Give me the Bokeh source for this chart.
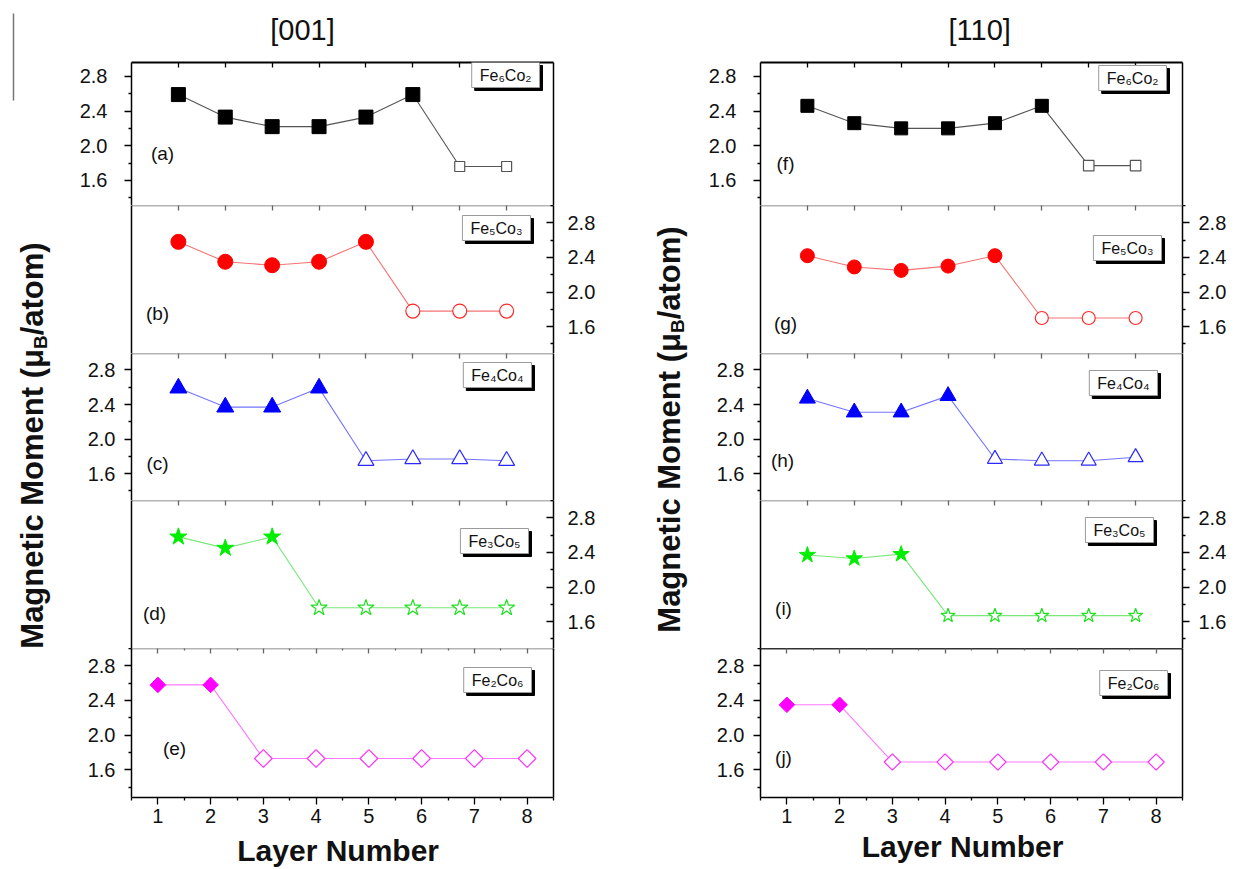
import math
from bokeh.plotting import figure
from bokeh.layouts import row, column
from bokeh.models import (Range1d, LinearAxis, FixedTicker, Label,
                          CustomJSTickFormatter, PrintfTickFormatter)
from bokeh.core.properties import value
from bokeh.embed import file_html
from bokeh.resources import INLINE

FONT = "Liberation Sans"

# ---------------- data ----------------
layers = [1, 2, 3, 4, 5, 6, 7, 8]
compositions = ["Fe₆Co₂", "Fe₅Co₃", "Fe₄Co₄", "Fe₃Co₅", "Fe₂Co₆"]
fe_layers = [6, 5, 4, 3, 2]          # number of Fe layers (filled symbols)
tags_001 = ["(a)", "(b)", "(c)", "(d)", "(e)"]
tags_110 = ["(f)", "(g)", "(h)", "(i)", "(j)"]
titles = ["[001]", "[110]"]

m001_fe6co2 = [2.59, 2.33, 2.22, 2.22, 2.33, 2.59, 1.76, 1.76]
m001_fe5co3 = [2.58, 2.35, 2.31, 2.35, 2.58, 1.78, 1.78, 1.78]
m001_fe4co4 = [2.59, 2.37, 2.37, 2.59, 1.75, 1.77, 1.77, 1.75]
m001_fe3co5 = [2.58, 2.45, 2.58, 1.76, 1.76, 1.76, 1.76, 1.76]
m001_fe2co6 = [2.58, 2.58, 1.73, 1.73, 1.73, 1.73, 1.73, 1.73]

m110_fe6co2 = [2.46, 2.26, 2.20, 2.20, 2.26, 2.46, 1.77, 1.77]
m110_fe5co3 = [2.42, 2.29, 2.25, 2.30, 2.42, 1.70, 1.70, 1.70]
m110_fe4co4 = [2.47, 2.31, 2.31, 2.50, 1.77, 1.75, 1.75, 1.79]
m110_fe3co5 = [2.37, 2.33, 2.38, 1.67, 1.67, 1.67, 1.67, 1.67]
m110_fe2co6 = [2.35, 2.35, 1.69, 1.69, 1.69, 1.69, 1.69, 1.69]

y_major = [1.6, 2.0, 2.4, 2.8]
y_minor = [1.4, 1.8, 2.2, 2.6, 3.0]
x_half = [0.5, 1.5, 2.5, 3.5, 4.5, 5.5, 6.5, 7.5, 8.5]
x_title = "Layer Number"
y_title_parts = ["Magnetic Moment (μ", "B", "/atom)"]

series_001 = [m001_fe6co2, m001_fe5co3, m001_fe4co4, m001_fe3co5, m001_fe2co6]
series_110 = [m110_fe6co2, m110_fe5co3, m110_fe4co4, m110_fe3co5, m110_fe2co6]

# ---------------- styles ----------------
markers = ["square", "circle", "triangle", "star", "square"]
marker_angles = [0, 0, 0, 0, math.pi / 4]
colors = ["#000000", "#ff0000", "#0000ff", "#00ee00", "#ff00ff"]
open_colors = ["#555555", "#ff2a2a", "#2a2aff", "#22e022", "#ff33ff"]
line_colors = ["#555555", "#f47474", "#7474ff", "#7ae87a", "#ff7aff"]
size_fill = {"L": [14, 15, 17, 18, 11], "R": [13, 14, 16, 17, 11]}
size_open = {"L": [10, 14, 16, 17, 12.5], "R": [10.5, 13, 15, 15, 11.5]}

# ---------------- layout geometry (page px) ----------------
PAGE_TOP, PAGE_BOTTOM = 0, 869
HEAD_BOTTOM = 50
FOOT_TOP = 830
COL_X = {"L": (60, 640), "R": (700, 1239)}
FRAME_X = {"L": (131, 553), "R": (760, 1182)}
FRAME_Y = [(62, 205), (205, 353), (353, 500), (500, 648), (648, 797)]
X_RANGES = [(0, 9), (0, 9), (0, 9), (0, 9), (0.5, 8.5)]
Y_RANGES = [(1.31, 2.96), (1.29, 3.0), (1.29, 2.99), (1.29, 3.0), (1.28, 3.0)]

LEGEND_TR = {"L": [(539, 62), (530, 215), (531, 362), (528, 528), (531, 667)],
             "R": [(1166, 65), (1161, 235), (1157, 370), (1153, 517), (1167, 670)]}
TAG_C = {"L": [(162, 153), (157, 313), (157, 463), (154, 613), (174, 748)],
         "R": [(785, 163), (785, 323), (782, 460), (783, 608), (783, 757)]}
TITLE_C = {"L": (295, 29), "R": (980, 29)}
XTITLE_C = {"L": (344, 850), "R": (958, 846)}
YTITLE = {"L": (0, 60, 32, 445), "R": (640, 700, 669, 429)}
TOP_LINE = {"L": ["#000000", "#b4b4b4", "#b4b4b4", "#b4b4b4", "#b4b4b4"],
            "R": ["#000000", "#b4b4b4", "#b4b4b4", "#b4b4b4", "#333333"]}

BOLD_W = {"M": 833, "a": 556, "g": 611, "n": 611, "e": 556, "t": 333, "i": 278,
          "c": 556, " ": 278, "o": 611, "m": 889, "(": 333, ")": 333, "μ": 611,
          "B": 722, "/": 278}


def bold_width(s, size):
    return sum(BOLD_W.get(ch, 556) for ch in s) * size / 1000.0


def blank_fig(x0, x1, y0, y1):
    f = figure(width=x1 - x0, height=y1 - y0,
               x_range=Range1d(x0, x1), y_range=Range1d(y1, y0),
               output_backend="svg", toolbar_location=None,
               x_axis_location=None, y_axis_location=None, min_border=0,
               outline_line_color=None, background_fill_color="white",
               border_fill_color="white")
    f.xgrid.visible = False
    f.ygrid.visible = False
    return f


def make_axis(ticks, minor, labels, tin, tout, color, lw=1.5, size="20px",
              standoff=8, tick_color=None):
    ax = LinearAxis(ticker=FixedTicker(ticks=ticks, minor_ticks=minor))
    ax.axis_line_color = color
    ax.axis_line_width = lw
    tc = tick_color or color
    ax.major_tick_line_color = tc
    ax.minor_tick_line_color = tc
    ax.major_tick_line_width = 1.3
    ax.minor_tick_line_width = 1.3
    ax.major_tick_in = tin
    ax.major_tick_out = tout
    ax.minor_tick_in = int(tin * 0.55)
    ax.minor_tick_out = int(tout * 0.55)
    if labels:
        ax.major_label_text_font = FONT
        ax.major_label_text_font_size = size
        ax.major_label_text_color = "#111111"
        ax.major_label_standoff = standoff
    else:
        ax.formatter = CustomJSTickFormatter(code="return ''")
        ax.major_label_standoff = 0
    return ax


def make_panel(side, i, vals, tag, comp):
    cx0, cx1 = COL_X[side]
    fx0, fx1 = FRAME_X[side]
    fy0, fy1 = FRAME_Y[i]
    ct = HEAD_BOTTOM if i == 0 else fy0
    cb = FOOT_TOP if i == 4 else fy1
    xr, yr = X_RANGES[i], Y_RANGES[i]
    p = figure(width=cx1 - cx0, height=cb - ct,
               x_range=Range1d(*xr), y_range=Range1d(*yr),
               output_backend="svg", toolbar_location=None,
               x_axis_location=None, y_axis_location=None,
               min_border_left=fx0 - cx0, min_border_right=cx1 - fx1,
               min_border_top=fy0 - ct, min_border_bottom=cb - fy1,
               outline_line_color=None, background_fill_color="white",
               border_fill_color="white")
    p.xgrid.visible = False
    p.ygrid.visible = False

    def px(x):
        return xr[0] + (x - fx0) / (fx1 - fx0) * (xr[1] - xr[0])

    def py(y):
        return yr[1] - (y - fy0) / (fy1 - fy0) * (yr[1] - yr[0])

    big_standoff = 17 if i == 0 else 9
    # left axis
    if i % 2 == 0:
        la = make_axis(y_major, y_minor, True, 0, 7, "#000000", standoff=big_standoff)
        la.formatter = PrintfTickFormatter(format="%.1f")
    else:
        la = make_axis([], [], False, 0, 0, "#000000")
    p.add_layout(la, "left")
    # right axis
    if i % 2 == 1:
        if side == "L":
            ra = make_axis(y_major, y_minor, True, 7, 0, "#000000", standoff=14)
        else:
            ra = make_axis(y_major, y_minor, True, 0, 7, "#000000", standoff=9)
        ra.formatter = PrintfTickFormatter(format="%.1f")
    else:
        ra = make_axis([], [], False, 0, 0, "#000000")
    p.add_layout(ra, "right")
    # top axis (inward ticks, no labels)
    tcol = TOP_LINE[side][i]
    ta = make_axis(layers, x_half if i == 4 else [], False, 5, 0, tcol, lw=2,
                   tick_color="#000000" if i == 0 else "#666666")
    p.add_layout(ta, "above")
    # bottom axis
    if i == 4:
        ba = make_axis(layers, x_half, True, 0, 7, "#000000", standoff=4)
        p.add_layout(ba, "below")

    n = fe_layers[i]
    p.line(layers, vals, line_color=line_colors[i], line_width=1.1)
    p.scatter(layers[:n], vals[:n], marker=markers[i], angle=marker_angles[i],
              size=size_fill[side][i], fill_color=colors[i], line_color=colors[i])
    p.scatter(layers[n:], vals[n:], marker=markers[i], angle=marker_angles[i],
              size=size_open[side][i], fill_color="white",
              line_color=open_colors[i], line_width=1.2)

    # panel tag
    tx, ty = TAG_C[side][i]
    p.add_layout(Label(x=px(tx), y=py(ty), text=tag, text_font=FONT,
                       text_font_size="19px", text_align="center",
                       text_baseline="middle", text_color="#111111"))
    # composition box with shadow
    bx, by = LEGEND_TR[side][i]
    for dx, dy, bg, fg, bc in [(3, 3, "#000000", "#000000", "#000000"),
                               (0, 0, "#ffffff", "#111111", "#9a9a9a")]:
        p.add_layout(Label(x=px(bx + dx), y=py(by + dy), text=comp,
                           text_font=FONT, text_font_size="16px",
                           text_align="right", text_baseline="top",
                           text_color=fg, background_fill_color=bg,
                           border_line_color=bc, border_line_width=1,
                           padding=dict(x=8, y=4)))
    return p


def make_header(side):
    x0, x1 = COL_X[side]
    f = blank_fig(x0, x1, PAGE_TOP, HEAD_BOTTOM)
    tx, ty = TITLE_C[side]
    f.text(x=[tx], y=[ty], text=[titles[0 if side == "L" else 1]],
           text_font=value(FONT), text_font_size="29px", text_align="center",
           text_baseline="middle", text_color="#111111")
    return f


def make_footer(side):
    x0, x1 = COL_X[side]
    f = blank_fig(x0, x1, FOOT_TOP, PAGE_BOTTOM)
    tx, ty = XTITLE_C[side]
    f.text(x=[tx], y=[ty], text=[x_title], text_font=value(FONT),
           text_font_style="bold", text_font_size="30px", text_align="center",
           text_baseline="middle", text_color="#111111")
    return f


def make_ylab(side, with_rule):
    x0, x1, xc, yc = YTITLE[side]
    f = blank_fig(x0, x1, PAGE_TOP, PAGE_BOTTOM)
    big, small = 31, 19
    w0 = bold_width(y_title_parts[0], big)
    w1 = bold_width(y_title_parts[1], small)
    w2 = bold_width(y_title_parts[2], big)
    start = yc + (w0 + w1 + w2) / 2.0
    kw = dict(angle=math.pi / 2, text_font=value(FONT), text_font_style="bold",
              text_align="left", text_baseline="middle", text_color="#111111")
    f.text(x=[xc], y=[start], text=[y_title_parts[0]], text_font_size="31px", **kw)
    f.text(x=[xc + 8], y=[start - w0], text=[y_title_parts[1]],
           text_font_size="19px", **kw)
    f.text(x=[xc], y=[start - w0 - w1], text=[y_title_parts[2]],
           text_font_size="31px", **kw)
    if with_rule:
        f.segment(x0=[13], y0=[13], x1=[13], y1=[100], line_color="#777777",
                  line_width=1.5)
    return f


left_col = column(make_header("L"),
                  *[make_panel("L", i, series_001[i], tags_001[i], compositions[i])
                    for i in range(5)],
                  make_footer("L"))
right_col = column(make_header("R"),
                   *[make_panel("R", i, series_110[i], tags_110[i], compositions[i])
                     for i in range(5)],
                   make_footer("R"))

layout = row(make_ylab("L", True), left_col, make_ylab("R", False), right_col)

open("out.html", "w").write(file_html(layout, INLINE))
